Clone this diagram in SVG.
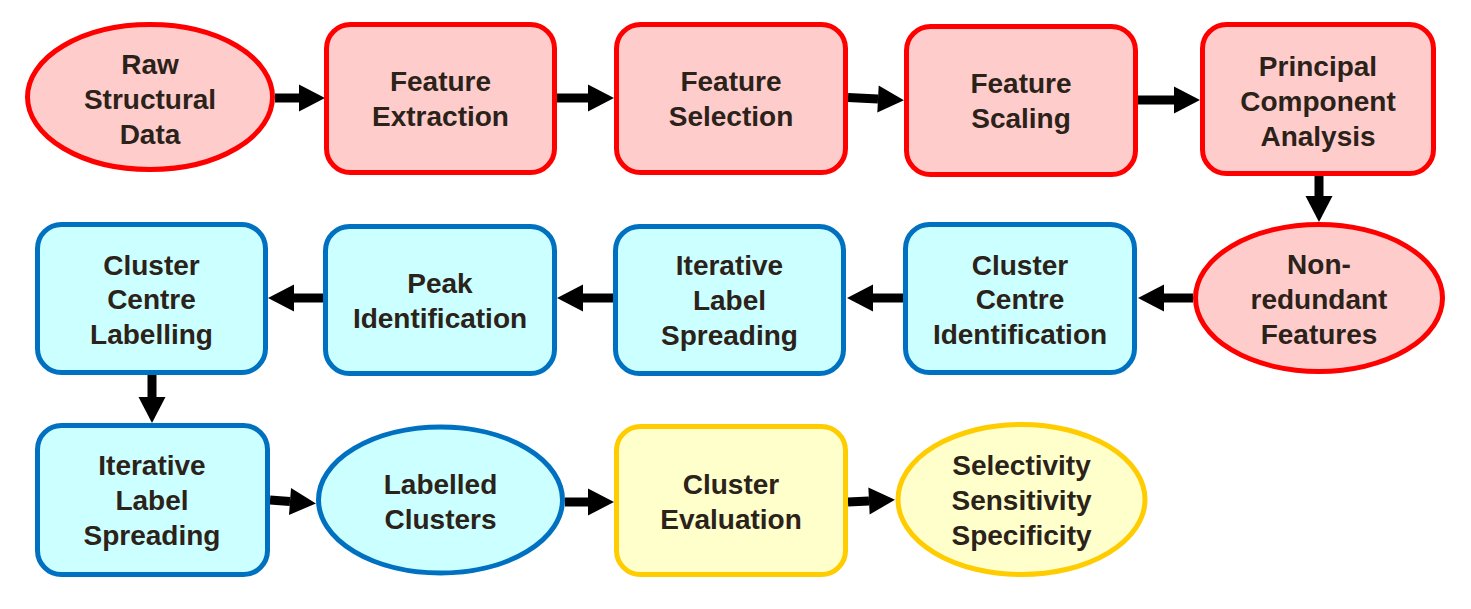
<svg xmlns="http://www.w3.org/2000/svg" width="1471" height="609" viewBox="0 0 1471 609">
<style>
.red{fill:#FFCCCC;stroke:#FF0000;stroke-width:5}
.blue{fill:#CCFFFF;stroke:#0070C0;stroke-width:5}
.yel{fill:#FFFFCC;stroke:#FFCC00;stroke-width:5}
text{font-family:"Liberation Sans",Arial,sans-serif;font-weight:bold;font-size:28px;fill:#2B2219;text-anchor:middle}
.c line{stroke:#000;stroke-width:9;marker-end:url(#ah)}
</style>
<defs>
<marker id="ah" markerUnits="userSpaceOnUse" markerWidth="27" markerHeight="28" refX="0" refY="13.5" orient="auto" overflow="visible">
<path d="M0,0 L26,13.5 L0,27 Z" fill="#000"/>
</marker>
</defs>
<rect width="1471" height="609" fill="#fff"/>
<g class="c" id="connectors">
<line x1="275" y1="98" x2="299" y2="98"/>
<line x1="557" y1="98" x2="588" y2="98"/>
<line x1="848" y1="97.5" x2="878" y2="99"/>
<line x1="1138" y1="100" x2="1174" y2="100"/>
<line x1="1319" y1="176" x2="1319" y2="196"/>
<line x1="1193" y1="298" x2="1164" y2="298"/>
<line x1="903" y1="298" x2="873" y2="298"/>
<line x1="613" y1="298" x2="583" y2="298"/>
<line x1="323" y1="298" x2="294" y2="298"/>
<line x1="152" y1="375" x2="152" y2="397"/>
<line x1="270" y1="500" x2="290" y2="501.5"/>
<line x1="565" y1="502" x2="588" y2="502"/>
<line x1="848" y1="502" x2="869" y2="501"/>
</g>
<g id="raw"><ellipse class="red" cx="150" cy="97" rx="122.5" ry="72.5"/>
<text x="150" y="74">Raw</text><text x="150" y="109">Structural</text><text x="150" y="144">Data</text></g>
<g id="fext"><rect class="red" x="326.5" y="24.5" width="228" height="148" rx="24"/>
<text x="440.5" y="91">Feature</text><text x="440.5" y="126">Extraction</text></g>
<g id="fsel"><rect class="red" x="616.5" y="24.5" width="229" height="148" rx="24"/>
<text x="731" y="91">Feature</text><text x="731" y="126">Selection</text></g>
<g id="fscale"><rect class="red" x="906.5" y="26.5" width="229" height="148" rx="24"/>
<text x="1021" y="93">Feature</text><text x="1021" y="128">Scaling</text></g>
<g id="pca"><rect class="red" x="1202.5" y="24.5" width="231" height="149" rx="24"/>
<text x="1318" y="76">Principal</text><text x="1318" y="111">Component</text><text x="1318" y="146">Analysis</text></g>
<g id="nonred"><ellipse class="red" cx="1319" cy="298" rx="123.5" ry="73.5"/>
<text x="1319" y="274">Non-</text><text x="1319" y="309">redundant</text><text x="1319" y="344">Features</text></g>
<g id="cci"><rect class="blue" x="905.5" y="224.5" width="229" height="148" rx="24"/>
<text x="1020" y="275">Cluster</text><text x="1020" y="309">Centre</text><text x="1020" y="344">Identification</text></g>
<g id="ils1"><rect class="blue" x="615.5" y="226.5" width="228" height="147" rx="24"/>
<text x="729.5" y="275">Iterative</text><text x="729.5" y="310">Label</text><text x="729.5" y="345">Spreading</text></g>
<g id="peak"><rect class="blue" x="325.5" y="226.5" width="229" height="147" rx="24"/>
<text x="440" y="293">Peak</text><text x="440" y="328">Identification</text></g>
<g id="ccl"><rect class="blue" x="37.5" y="224.5" width="228" height="148" rx="24"/>
<text x="151.5" y="275">Cluster</text><text x="151.5" y="309">Centre</text><text x="151.5" y="344">Labelling</text></g>
<g id="ils2"><rect class="blue" x="37.5" y="425.5" width="230" height="149" rx="24"/>
<text x="152" y="475">Iterative</text><text x="152" y="510">Label</text><text x="152" y="545">Spreading</text></g>
<g id="lc"><ellipse class="blue" cx="440.5" cy="500" rx="122" ry="73"/>
<text x="440.5" y="494">Labelled</text><text x="440.5" y="529">Clusters</text></g>
<g id="ce"><rect class="yel" x="616.5" y="426.5" width="229" height="148" rx="24"/>
<text x="731" y="494">Cluster</text><text x="731" y="529">Evaluation</text></g>
<g id="sss"><ellipse class="yel" cx="1021.5" cy="499.5" rx="123.5" ry="75"/>
<text x="1021.5" y="475">Selectivity</text><text x="1021.5" y="510">Sensitivity</text><text x="1021.5" y="545">Specificity</text></g>
</svg>
